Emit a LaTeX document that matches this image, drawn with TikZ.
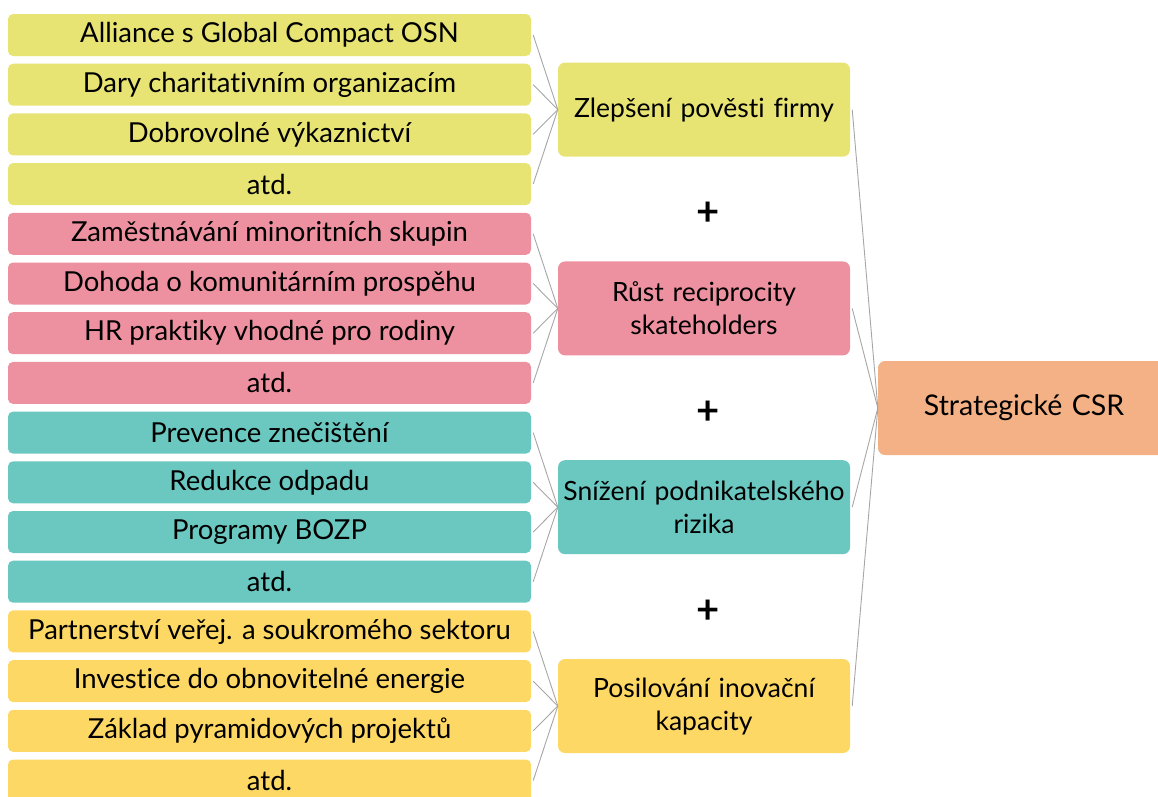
\documentclass[tikz,border=0pt]{standalone}
\usepackage{fontspec}
\setmainfont[Ligatures=NoCommon]{Lato}
\definecolor{cyel}{HTML}{E8E473}
\definecolor{cpink}{HTML}{ED91A0}
\definecolor{cteal}{HTML}{6BC8C0}
\definecolor{corange}{HTML}{FED864}
\definecolor{cpeach}{HTML}{F3B185}
\definecolor{cline}{HTML}{A6A6A6}
\tikzset{
  leaf/.style={rounded corners=5pt, minimum width=523pt, minimum height=42pt, inner sep=0pt, font=\fontsize{27.5}{30}\selectfont, align=center, anchor=center},
  mid/.style={rounded corners=7pt, minimum width=292pt, minimum height=94pt, inner sep=0pt, font=\fontsize{26.5}{33}\selectfont, align=center, text width=290pt},
  plus/.style={font=\fontsize{40}{40}\selectfont\bfseries},
  conn/.style={draw=cline, line width=0.9pt}
}
\begin{document}
\begin{tikzpicture}[x=1pt,y=-1pt]
\useasboundingbox (0,0) rectangle (1158,796);
\clip (0,0) rectangle (1158,796);
% leaves
\foreach \i/\t/\c in {
 1/Alliance s Global Compact OSN/cyel,
 2/Dary charitativním organizacím/cyel,
 3/Dobrovolné výkaznictví/cyel,
 4/atd./cyel,
 5/Zaměstnávání minoritních skupin/cpink,
 6/Dohoda o komunitárním prospěhu/cpink,
 7/HR praktiky vhodné pro rodiny/cpink,
 8/atd./cpink,
 9/Prevence znečištění/cteal,
 10/Redukce odpadu/cteal,
 11/Programy BOZP/cteal,
 12/atd./cteal,
 13/Partnerství veřej. a soukromého sektoru/corange,
 14/Investice do obnovitelné energie/corange,
 15/Základ pyramidových projektů/corange,
 16/atd./corange}
{
  \node[leaf, fill=\c] (l\i) at (269.5, {35+(\i-1)*49.7}) {\t};
}
% middle
\node[mid, fill=cyel] (m1) at (704, 109.6) {Zlepšení pověsti firmy};
\node[mid, fill=cpink] (m2) at (704, 308.4) {Růst reciprocity\\skateholders};
\node[mid, fill=cteal] (m3) at (704, 507.2) {Snížení podnikatelského\\rizika};
\node[mid, fill=corange] (m4) at (704, 706) {Posilování inovační\\kapacity};
% right
\node[mid, fill=cpeach, font=\fontsize{28.5}{34}\selectfont] (r) at (1024, 408) {Strategické CSR};
% plus signs
\node[plus] (p1) at (708, 214) {+};
\node[plus] (p2) at (708, 413) {+};
\node[plus] (p3) at (708, 612) {+};
% connectors
\foreach \g in {1,2,3,4}{
  \foreach \k in {1,2,3,4}{
    \pgfmathtruncatemacro{\n}{(\g-1)*4+\k}
    \draw[conn] ([xshift=2pt]l\n.east) -- (m\g.west);
  }
  \draw[conn] ([xshift=2pt]m\g.east) -- (r.west);
}
\end{tikzpicture}
\end{document}
